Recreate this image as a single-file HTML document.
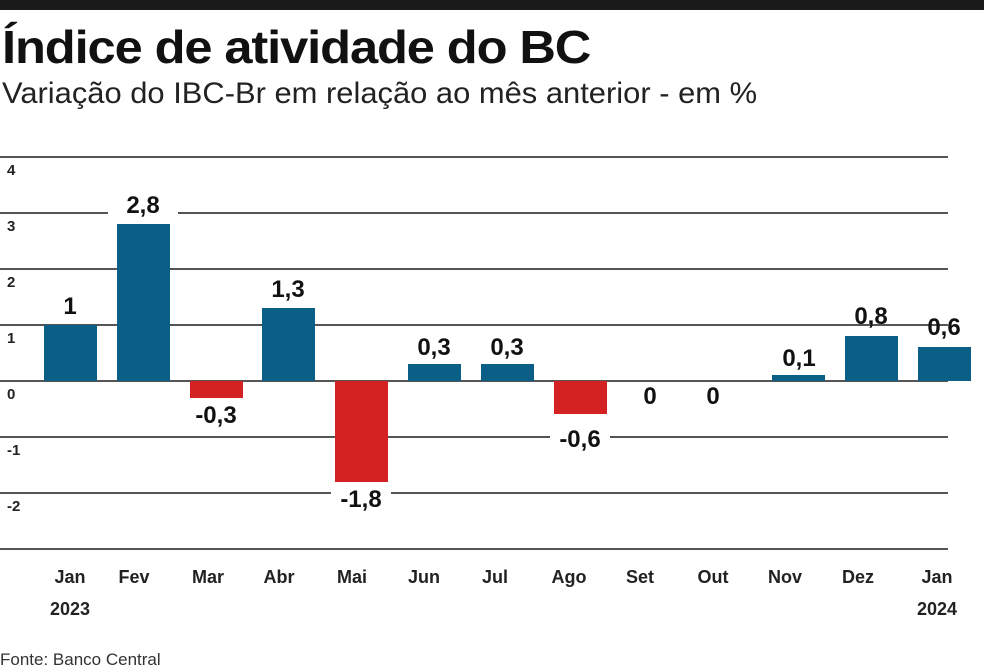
<!DOCTYPE html><html><head><style>
body{margin:0;width:984px;height:670px;background:#fff;overflow:hidden;position:relative;font-family:"Liberation Sans",sans-serif}
.a{position:absolute;white-space:nowrap}
.g{position:absolute;left:0;width:948px;height:2px;background:#555}
.b{position:absolute;width:53px}
.v{position:absolute;width:80px;text-align:center;font-weight:bold;font-size:24px;color:#111;background:#fff;line-height:26px}
.y{position:absolute;left:7px;font-size:15px;font-weight:bold;color:#222}
.m{position:absolute;width:80px;text-align:center;font-size:18px;font-weight:bold;color:#222}
</style></head><body>
<div class="a" style="left:0;top:0;width:984px;height:10px;background:#1a1a1a"></div>
<div class="a" style="left:2px;top:20px;font-weight:bold;font-size:46px;letter-spacing:-1px;color:#111;transform:scaleX(1.1);transform-origin:left">Índice de atividade do BC</div>
<div class="a" style="left:2px;top:77px;font-size:30px;color:#222;transform:scaleX(1.03);transform-origin:left">Variação do IBC-Br em relação ao mês anterior - em %</div>
<div class="g" style="top:156px"></div><div class="g" style="top:212px"></div><div class="g" style="top:268px"></div><div class="g" style="top:324px"></div><div class="g" style="top:380px"></div><div class="g" style="top:436px"></div><div class="g" style="top:492px"></div><div class="g" style="top:548px"></div>
<div class="y" style="top:162px">4</div><div class="y" style="top:218px">3</div><div class="y" style="top:274px">2</div><div class="y" style="top:330px">1</div><div class="y" style="top:386px">0</div><div class="y" style="top:442px">-1</div><div class="y" style="top:498px">-2</div>
<div class="b" style="left:44px;top:325px;height:56px;background:#0b5f87"></div>
<div class="b" style="left:117px;top:224px;height:157px;background:#0b5f87"></div>
<div class="b" style="left:190px;top:381px;height:17px;background:#d42222"></div>
<div class="b" style="left:262px;top:308px;height:73px;background:#0b5f87"></div>
<div class="b" style="left:335px;top:381px;height:101px;background:#d42222"></div>
<div class="b" style="left:408px;top:364px;height:17px;background:#0b5f87"></div>
<div class="b" style="left:481px;top:364px;height:17px;background:#0b5f87"></div>
<div class="b" style="left:554px;top:381px;height:33px;background:#d42222"></div>
<div class="b" style="left:772px;top:375px;height:6px;background:#0b5f87"></div>
<div class="b" style="left:845px;top:336px;height:45px;background:#0b5f87"></div>
<div class="b" style="left:918px;top:347px;height:34px;background:#0b5f87"></div>
<div class="v" style="left:30px;top:294px;width:80px;background:none">1</div>
<div class="v" style="left:108px;top:193px;width:70px">2,8</div>
<div class="v" style="left:186px;top:403px;width:60px;background:none">-0,3</div>
<div class="v" style="left:253px;top:277px;width:70px">1,3</div>
<div class="v" style="left:331px;top:487px;width:60px">-1,8</div>
<div class="v" style="left:399px;top:335px;width:70px">0,3</div>
<div class="v" style="left:472px;top:335px;width:70px">0,3</div>
<div class="v" style="left:550px;top:427px;width:60px">-0,6</div>
<div class="v" style="left:625px;top:384px;width:50px">0</div>
<div class="v" style="left:688px;top:384px;width:50px">0</div>
<div class="v" style="left:764px;top:346px;width:70px">0,1</div>
<div class="v" style="left:836px;top:304px;width:70px;background:none">0,8</div>
<div class="v" style="left:909px;top:315px;width:70px;background:none">0,6</div>
<div class="m" style="left:30px;top:567px">Jan</div><div class="m" style="left:94px;top:567px">Fev</div><div class="m" style="left:168px;top:567px">Mar</div><div class="m" style="left:239px;top:567px">Abr</div><div class="m" style="left:312px;top:567px">Mai</div><div class="m" style="left:384px;top:567px">Jun</div><div class="m" style="left:455px;top:567px">Jul</div><div class="m" style="left:529px;top:567px">Ago</div><div class="m" style="left:600px;top:567px">Set</div><div class="m" style="left:673px;top:567px">Out</div><div class="m" style="left:745px;top:567px">Nov</div><div class="m" style="left:818px;top:567px">Dez</div><div class="m" style="left:897px;top:567px">Jan</div>
<div class="m" style="left:30px;top:599px">2023</div><div class="m" style="left:897px;top:599px">2024</div>
<div class="a" style="left:0;top:650px;font-size:17px;color:#333">Fonte: Banco Central</div>
</body></html>
